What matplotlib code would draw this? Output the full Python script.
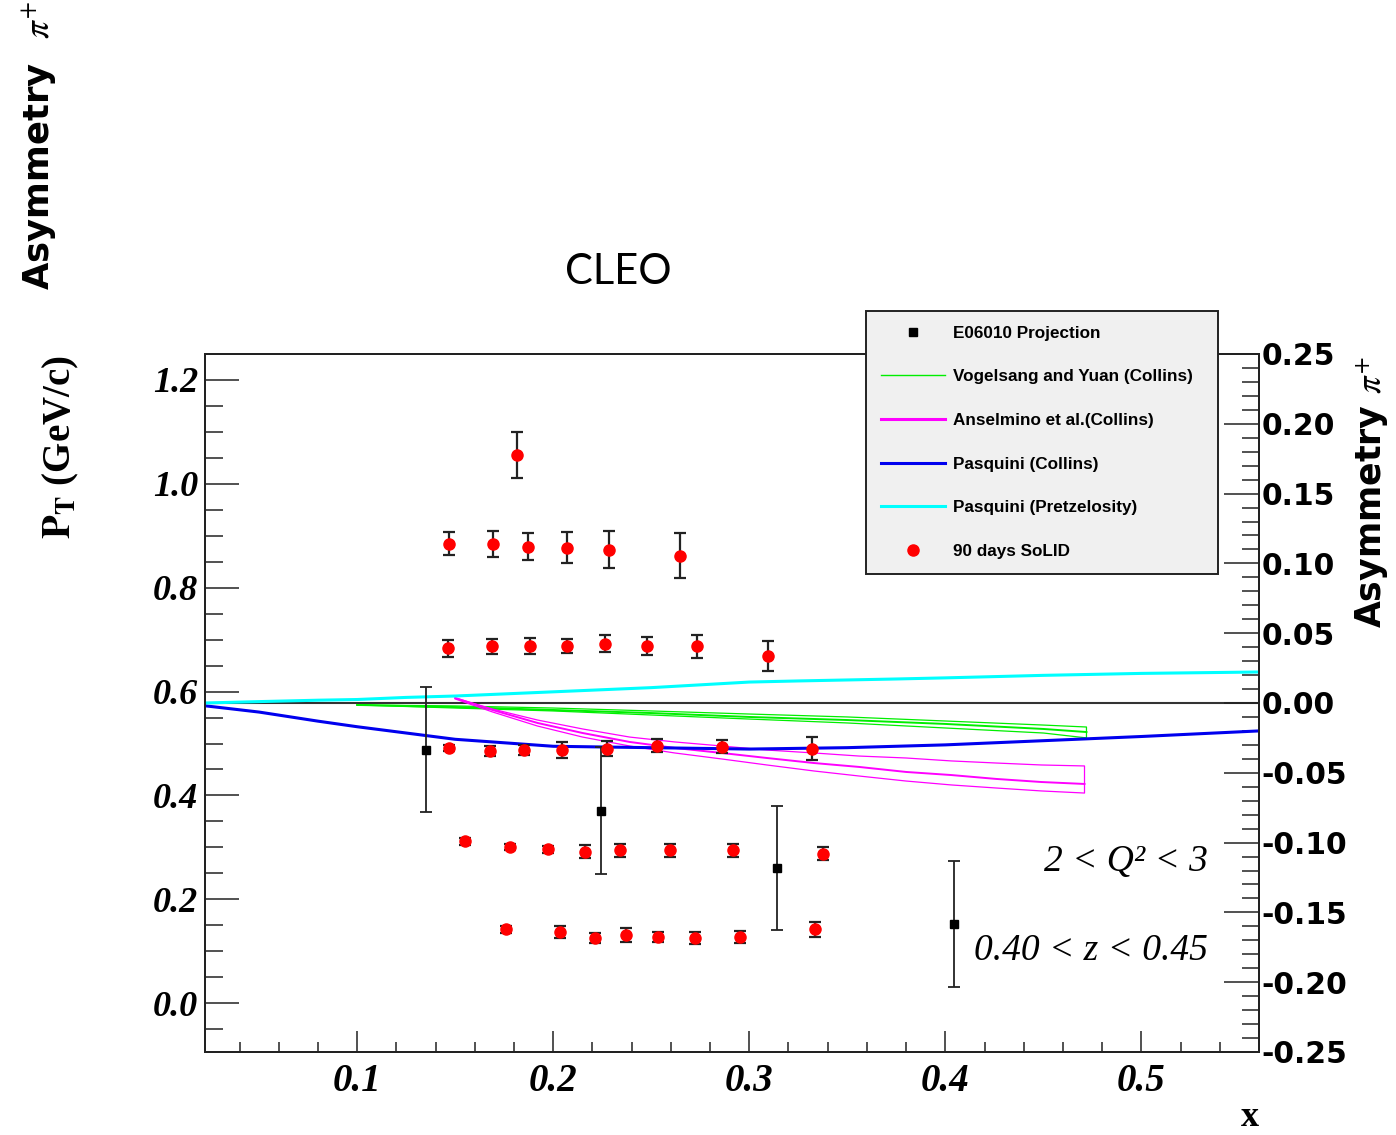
import numpy as np
import matplotlib.pyplot as plt
from matplotlib.lines import Line2D

plt.rcParams['mathtext.fontset'] = 'stix'
plt.rcParams['axes.unicode_minus'] = False

# axis ranges
x_lim = (0.0224, 0.56)
pt_lim = (-0.094, 1.25)
asym_lim = (-0.25, 0.25)

# tick positions / labels
x_ticks = [0.1, 0.2, 0.3, 0.4, 0.5]
x_ticklabels = ["0.1", "0.2", "0.3", "0.4", "0.5"]
pt_ticks = [0.0, 0.2, 0.4, 0.6, 0.8, 1.0, 1.2]
pt_ticklabels = ["0.0", "0.2", "0.4", "0.6", "0.8", "1.0", "1.2"]
asym_ticks = [-0.25, -0.20, -0.15, -0.10, -0.05, 0.0, 0.05, 0.10, 0.15, 0.20, 0.25]
asym_ticklabels = ["-0.25", "-0.20", "-0.15", "-0.10", "-0.05", "0.00",
                   "0.05", "0.10", "0.15", "0.20", "0.25"]

# E06010 projection
e06_x = [0.135, 0.2245, 0.314, 0.4045]
e06_pt = [0.488, 0.371, 0.260, 0.152]
e06_err = [0.120, 0.122, 0.120, 0.121]

# 90 days SoLID, one list per PT bin
solid1_x = [0.1816]
solid1_pt = [1.056]
solid1_err = [0.044]

solid2_x = [0.1469, 0.1694, 0.1872, 0.2071, 0.2286, 0.2648]
solid2_pt = [0.885, 0.885, 0.879, 0.877, 0.873, 0.862]
solid2_err = [0.022, 0.025, 0.026, 0.030, 0.036, 0.044]

solid3_x = [0.1464, 0.1689, 0.1883, 0.2071, 0.2265, 0.2480, 0.2735, 0.3097]
solid3_pt = [0.683, 0.687, 0.688, 0.688, 0.692, 0.688, 0.687, 0.669]
solid3_err = [0.016, 0.015, 0.016, 0.014, 0.016, 0.018, 0.022, 0.029]

solid4_x = [0.1469, 0.1679, 0.1852, 0.2046, 0.2276, 0.2531, 0.2862, 0.3321]
solid4_pt = [0.492, 0.485, 0.487, 0.488, 0.490, 0.496, 0.494, 0.490]
solid4_err = [0.006, 0.010, 0.010, 0.015, 0.015, 0.013, 0.013, 0.022]

solid5_x = [0.1551, 0.1781, 0.1974, 0.2163, 0.2342, 0.2597, 0.2918, 0.3378]
solid5_pt = [0.3115, 0.300, 0.296, 0.292, 0.294, 0.294, 0.294, 0.288]
solid5_err = [0.006, 0.006, 0.006, 0.012, 0.013, 0.012, 0.012, 0.013]

solid6_x = [0.1760, 0.2036, 0.2214, 0.2372, 0.2536, 0.2724, 0.2954, 0.3337]
solid6_pt = [0.142, 0.137, 0.125, 0.131, 0.127, 0.125, 0.127, 0.142]
solid6_err = [0.006, 0.012, 0.010, 0.013, 0.010, 0.012, 0.012, 0.015]

# model curves (asymmetry)
cyan_x = [0.0224, 0.05, 0.08, 0.10, 0.125, 0.15, 0.175, 0.20, 0.225, 0.25,
          0.275, 0.30, 0.325, 0.35, 0.375, 0.40, 0.45, 0.50, 0.56]
cyan_a = [0.000, 0.001, 0.002, 0.0025, 0.004, 0.005, 0.0065, 0.008, 0.0095, 0.011,
          0.013, 0.0150, 0.0158, 0.0165, 0.0172, 0.0180, 0.0198, 0.0212, 0.0222]

blue_x = [0.0224, 0.05, 0.08, 0.10, 0.125, 0.15, 0.175, 0.20, 0.225, 0.25,
          0.30, 0.35, 0.40, 0.45, 0.50, 0.56]
blue_a = [-0.002, -0.0065, -0.013, -0.017, -0.0215, -0.026, -0.0285, -0.031,
          -0.0315, -0.032, -0.033, -0.032, -0.030, -0.027, -0.024, -0.020]

green_x = [0.10, 0.15, 0.20, 0.25, 0.30, 0.35, 0.40, 0.45, 0.472]
green_hi = [-0.0014, -0.0021, -0.0036, -0.0057, -0.0079, -0.010, -0.0129, -0.0158, -0.0172]
green_mid = [-0.0014, -0.0029, -0.005, -0.0072, -0.010, -0.0122, -0.015, -0.0186, -0.0208]
green_lo = [-0.0014, -0.0036, -0.0057, -0.0086, -0.0115, -0.0143, -0.0179, -0.0215, -0.025]

mag_x = [0.150, 0.169, 0.192, 0.215, 0.239, 0.262, 0.286, 0.309, 0.333,
         0.356, 0.380, 0.403, 0.426, 0.449, 0.471]
mag_hi = [0.0036, -0.0043, -0.0122, -0.0186, -0.0244, -0.0279, -0.0308, -0.0337,
          -0.0358, -0.038, -0.0394, -0.0415, -0.043, -0.0444, -0.0451]
mag_mid = [0.0036, -0.005, -0.0143, -0.0215, -0.0279, -0.0322, -0.0358, -0.0394,
           -0.043, -0.0458, -0.0494, -0.0516, -0.0544, -0.0566, -0.058]
mag_lo = [0.0029, -0.0064, -0.0165, -0.0244, -0.0308, -0.0358, -0.0401, -0.0444,
          -0.0487, -0.0523, -0.0559, -0.0587, -0.0609, -0.063, -0.0645]

GREEN = "#00ee00"
MAGENTA = "#ff00ff"
BLUE = "#0000ee"
CYAN = "#00ffff"

fig = plt.figure(figsize=(13.96, 11.35), dpi=100)
ax = fig.add_axes([0.14685, 0.07313, 0.75501, 0.61498])
ax2 = ax.twinx()
ax.set_zorder(ax2.get_zorder() + 1)
ax.patch.set_visible(False)

# --- model curves on the asymmetry scale ---
ax2.axhline(0.0, color="#333333", lw=1.5, zorder=1)


def band(xs, hi, mid, lo, color, lw_edge, lw_mid):
    xs = list(xs)
    ax2.plot(xs + xs[::-1], list(hi) + list(lo)[::-1], color=color, lw=lw_edge, zorder=2)
    ax2.plot(xs, mid, color=color, lw=lw_mid, zorder=2)


band(green_x, green_hi, green_mid, green_lo, GREEN, 0.9, 1.4)
band(mag_x, mag_hi, mag_mid, mag_lo, MAGENTA, 0.9, 1.4)
ax2.plot(blue_x, blue_a, color=BLUE, lw=2.2, zorder=3)
ax2.plot(cyan_x, cyan_a, color=CYAN, lw=2.2, zorder=3)

# --- data points on the PT scale ---
ax.errorbar(e06_x, e06_pt, yerr=e06_err, fmt="s", color="black", ms=5.5,
            ecolor="#222222", elinewidth=1.3, capsize=4, capthick=1.3, zorder=4)

for xs, ys, es in [(solid1_x, solid1_pt, solid1_err), (solid2_x, solid2_pt, solid2_err),
                   (solid3_x, solid3_pt, solid3_err), (solid4_x, solid4_pt, solid4_err),
                   (solid5_x, solid5_pt, solid5_err), (solid6_x, solid6_pt, solid6_err)]:
    ax.errorbar(xs, ys, yerr=es, fmt="o", color="red", mec="red", ms=8,
                ecolor="#222222", elinewidth=1.6, capsize=4.5, capthick=1.6, zorder=5)

# --- axes ---
ax.set_xlim(*x_lim)
ax.set_ylim(*pt_lim)
ax2.set_ylim(*asym_lim)

serif_bi = dict(family="Liberation Serif", weight="bold", style="italic")
ax.set_xticks(x_ticks)
ax.set_xticklabels(x_ticklabels, fontsize=28, **serif_bi)
ax.set_xticks(np.arange(0.04, 0.56, 0.02), minor=True)
ax.set_yticks(pt_ticks)
ax.set_yticklabels(pt_ticklabels, fontsize=26, **serif_bi)
ax.set_yticks(np.arange(-0.05, 1.25, 0.05), minor=True)
ax2.set_yticks(asym_ticks)
ax2.set_yticklabels(asym_ticklabels, fontsize=21.5, family="DejaVu Sans", weight="bold")
ax2.set_yticks(np.arange(-0.25, 0.2501, 0.01), minor=True)

ax.tick_params(axis="x", which="major", direction="in", length=15, width=1.1,
               pad=8, top=False, color="#222222")
ax.tick_params(axis="x", which="minor", direction="in", length=7.5, width=1.1,
               top=False, color="#222222")
ax.tick_params(axis="y", which="major", direction="in", length=24.5, width=1.1,
               pad=5, right=False, color="#222222")
ax.tick_params(axis="y", which="minor", direction="in", length=13, width=1.1,
               right=False, color="#222222")
ax2.tick_params(axis="y", which="major", direction="in", length=25, width=1.1,
                pad=2, left=False, color="#222222")
ax2.tick_params(axis="y", which="minor", direction="in", length=12, width=1.1,
                left=False, color="#222222")

for a in (ax, ax2):
    for s in a.spines.values():
        s.set_linewidth(1.4)
        s.set_color("#222222")

ax.set_ylabel(r"$\mathbf{P}_{\mathbf{T}}$ (GeV/c)", family="Liberation Serif",
              weight="bold", fontsize=28)
ax.yaxis.set_label_coords(-0.118, 0.866)

ax2.set_ylabel(r"Asymmetry $\pi^{+}$", family="DejaVu Sans", weight="bold",
               fontsize=25, rotation=90, va="center")
ax2.yaxis.set_label_coords(1.107, 0.802)

fig.text(1250 / 1396, 1 - 1117 / 1135, "x", ha="center", va="center",
         family="Liberation Serif", weight="bold", fontsize=26)

# --- kinematic bin labels ---
fig.text(1208 / 1396, 1 - 862 / 1135, "2 < Q² < 3", ha="right", va="center",
         family="Liberation Serif", style="italic", fontsize=27)
fig.text(1208 / 1396, 1 - 951 / 1135, "0.40 < z < 0.45", ha="right", va="center",
         family="Liberation Serif", style="italic", fontsize=27)

# --- legend ---
handles = [
    Line2D([], [], ls="none", marker="s", color="black", ms=5.5),
    Line2D([], [], color=GREEN, lw=1.0),
    Line2D([], [], color=MAGENTA, lw=2.2),
    Line2D([], [], color=BLUE, lw=2.2),
    Line2D([], [], color=CYAN, lw=2.2),
    Line2D([], [], ls="none", marker="o", color="red", ms=8),
]
labels = ["E06010 Projection", "Vogelsang and Yuan (Collins)",
          "Anselmino et al.(Collins)", "Pasquini (Collins)",
          "Pasquini (Pretzelosity)", "90 days SoLID"]
leg = ax.legend(handles, labels, loc="upper left", mode="expand",
                bbox_to_anchor=(866 / 1396, 1 - 573 / 1135, 352 / 1396, 262 / 1135),
                bbox_transform=fig.transFigure, borderaxespad=0,
                prop=dict(family="Liberation Sans", weight="bold", size=12.3),
                handlelength=3.8, handletextpad=0.45, borderpad=0.85,
                labelspacing=1.68, fancybox=False, framealpha=1,
                facecolor="#f0f0f0", edgecolor="#222222")
leg.get_frame().set_linewidth(1.4)
leg.set_zorder(10)

# --- slide captions ---
fig.text(618 / 1396, 1 - 272 / 1135, "CLEO", ha="center", va="center",
         family="Lato", fontsize=30)
fig.text(40 / 1396, 1 - 290 / 1135, r"Asymmetry  $\pi^{+}$", rotation=90,
         ha="center", va="bottom", family="DejaVu Sans", weight="bold", fontsize=25.5)

fig.savefig("out.png", dpi=100)
